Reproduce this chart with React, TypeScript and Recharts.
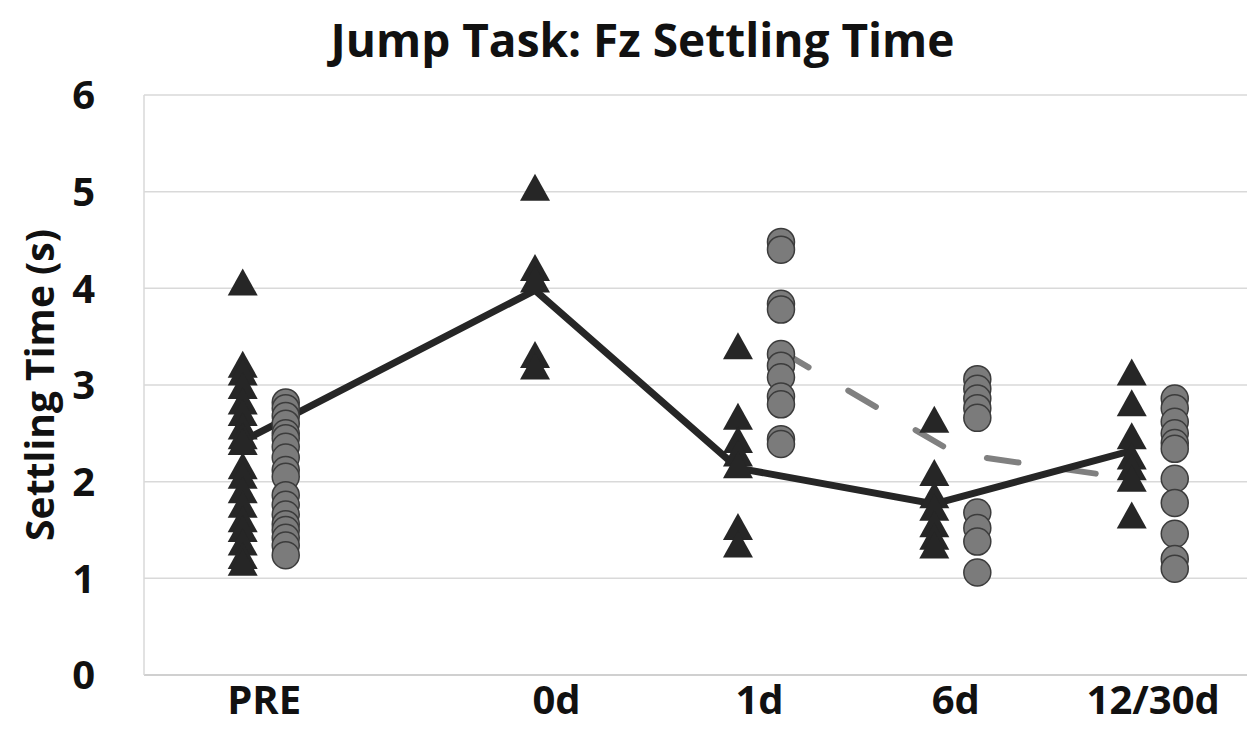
import { ComposedChart, Line, Scatter, XAxis, YAxis, CartesianGrid } from 'recharts';

// sessions and where each one sits along the x axis (0-100)
const sessions = ['PRE', '0d', '1d', '6d', '12/30d'];
const sessionPos = [10.9, 37.4, 55.8, 73.6, 91.5];
const markerOffset = 1.95;

// triangles: individual settling times (s)
const preTri = [4.05, 3.2, 3.12, 2.98, 2.82, 2.7, 2.56, 2.46, 2.4, 2.15, 2.05, 1.9, 1.75, 1.6, 1.5, 1.36, 1.22, 1.15];
const d0Tri = [5.03, 4.2, 4.08, 3.3, 3.18];
const d1Tri = [3.39, 2.66, 2.42, 2.28, 2.16, 1.52, 1.34];
const d6Tri = [2.63, 2.08, 1.85, 1.72, 1.55, 1.42, 1.33];
const d30Tri = [3.12, 2.8, 2.46, 2.25, 2.14, 2.02, 1.64];

// circles: individual settling times (s)
const preCirc = [2.82, 2.76, 2.68, 2.6, 2.5, 2.45, 2.36, 2.25, 2.12, 2.05, 1.86, 1.76, 1.66, 1.56, 1.5, 1.42, 1.34, 1.24];
const d1Circ = [4.48, 4.4, 3.84, 3.78, 3.32, 3.2, 3.08, 2.88, 2.8, 2.44, 2.39];
const d6Circ = [3.06, 2.96, 2.86, 2.76, 2.66, 1.68, 1.52, 1.38, 1.06];
const d30Circ = [2.86, 2.76, 2.62, 2.5, 2.4, 2.34, 2.03, 1.78, 1.46, 1.2, 1.1];

// group means
const triMean = [2.42, 3.98, 2.14, 1.77, 2.32];
const circMean = [3.35, 2.29, 2.03];
const circMeanSession = [2, 3, 4];
const circMeanShift = [1, 0, -1];

const triGroups = [preTri, d0Tri, d1Tri, d6Tri, d30Tri];
const circGroups = [preCirc, null, d1Circ, d6Circ, d30Circ];

const triPoints = triGroups.flatMap((vals, i) => vals.map(v => ({ x: sessionPos[i] - markerOffset, y: v })));
const circPoints = circGroups.flatMap((vals, i) => (vals || []).map(v => ({ x: sessionPos[i] + markerOffset, y: v })));
const triLine = triMean.map((v, i) => ({ x: sessionPos[i] - markerOffset, y: v }));
const circLine = circMean.map((v, i) => ({ x: sessionPos[circMeanSession[i]] + circMeanShift[i] * markerOffset, y: v }));

const font = "'Open Sans', 'Noto Sans', sans-serif";

const Triangle = (props: any) => {
  const { cx, cy } = props;
  return <path d={`M${cx},${cy - 15} L${cx + 15},${cy + 12} L${cx - 15},${cy + 12} Z`} fill="#262626" />;
};

const Circle = (props: any) => {
  const { cx, cy } = props;
  return <circle cx={cx} cy={cy} r={13.5} fill="#7b7b7b" stroke="#3c3c3c" strokeWidth={1.5} />;
};

export default function App() {
  return (
    <div style={{ position: 'absolute', left: 0, top: 0, width: 1257, height: 735, background: '#fff', fontFamily: font }}>
      <div style={{ position: 'absolute', top: 8, left: 14, width: 1257, textAlign: 'center', fontSize: 46, fontWeight: 700, color: '#111' }}>
        Jump Task: Fz Settling Time
      </div>
      <ComposedChart width={1257} height={735} margin={{ top: 95, right: 10, bottom: 15, left: 0 }} style={{ position: 'absolute', left: 0, top: 0 }}>
        <CartesianGrid vertical={false} stroke="#d9d9d9" strokeWidth={1.5} />
        <XAxis
          type="number"
          dataKey="x"
          domain={[0, 100]}
          ticks={sessionPos}
          tickFormatter={(v) => sessions[sessionPos.indexOf(v)]}
          height={45}
          tickLine={false}
          tickSize={0}
          tickMargin={11}
          axisLine={{ stroke: '#d0d0d0', strokeWidth: 2 }}
          tick={{ fill: '#111', fontSize: 40, fontWeight: 700, fontFamily: font }}
        />
        <YAxis
          type="number"
          domain={[0, 6]}
          ticks={[0, 1, 2, 3, 4, 5, 6]}
          width={144}
          tickLine={false}
          tickSize={0}
          tickMargin={49}
          axisLine={{ stroke: '#d9d9d9', strokeWidth: 1.5 }}
          tick={{ fill: '#111', fontSize: 40, fontWeight: 700, fontFamily: font }}
          label={{ value: 'Settling Time (s)', angle: -90, position: 'insideLeft', offset: 40, fontSize: 39, fontWeight: 700, fill: '#111', fontFamily: font, style: { textAnchor: 'middle' } }}
        />
        <Line data={circLine} dataKey="y" stroke="#808080" strokeWidth={6} strokeDasharray="32 46" strokeLinecap="round" dot={false} isAnimationActive={false} />
        <Line data={triLine} dataKey="y" stroke="#262626" strokeWidth={7} dot={false} isAnimationActive={false} />
        <Scatter data={triPoints} dataKey="y" shape={Triangle} isAnimationActive={false} />
        <Scatter data={circPoints} dataKey="y" shape={Circle} isAnimationActive={false} />
      </ComposedChart>
    </div>
  );
}
